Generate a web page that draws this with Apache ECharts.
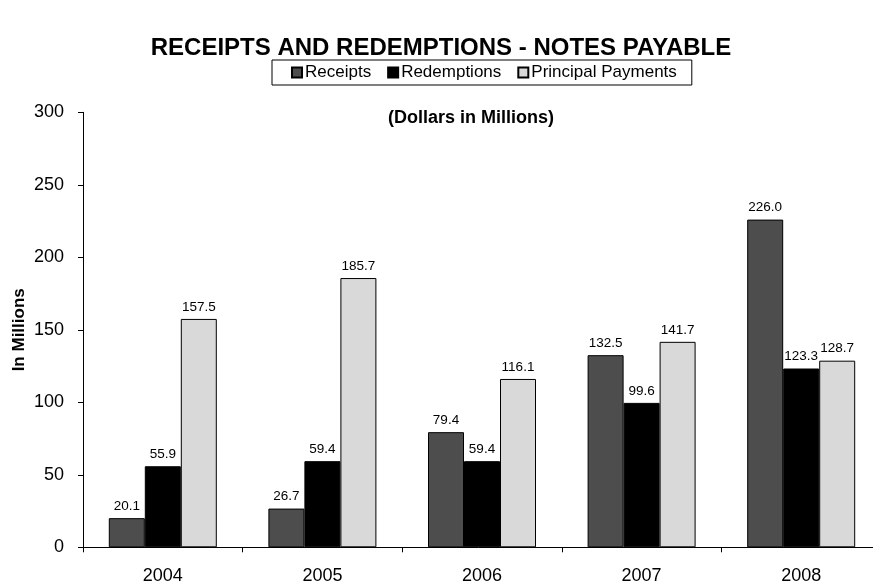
<!DOCTYPE html>
<html>
<head>
<meta charset="utf-8">
<script src="https://cdn.jsdelivr.net/npm/echarts@6/dist/echarts.min.js"></script>
<style>html,body{margin:0;padding:0;background:#fff}#c{width:873px;height:587px}</style>
</head>
<body>
<div id="c"></div>
<script>
var categories = ['2004', '2005', '2006', '2007', '2008'];
var receipts = [20.1, 26.7, 79.4, 132.5, 226.0];
var redemptions = [55.9, 59.4, 59.4, 99.6, 123.3];
var principal = [157.5, 185.7, 116.1, 141.7, 128.7];
var seriesNames = ['Receipts', 'Redemptions', 'Principal Payments'];
var yTicks = {min: 0, max: 300, interval: 50};

var FONT = '"Liberation Sans", Arial, sans-serif';
var chart = echarts.init(document.getElementById('c'));
function mk(name, data, color) {
  return {
    name: name, type: 'bar', data: data, barWidth: 36, barGap: '0%',
    itemStyle: {color: color, borderColor: '#000', borderWidth: 1},
    label: {show: true, position: 'top', distance: 5, color: '#000', fontSize: 13.5, fontFamily: FONT,
      formatter: function (p) { return p.value.toFixed(1); }}
  };
}
chart.setOption({
  animation: false,
  backgroundColor: '#fff',
  title: [
    {text: 'RECEIPTS AND REDEMPTIONS - NOTES PAYABLE', left: 436, top: 31, textAlign: 'center',
     textStyle: {fontSize: 24, fontWeight: 'bold', color: '#000', fontFamily: FONT}},
    {text: '(Dollars in Millions)', left: 466, top: 104, textAlign: 'center',
     textStyle: {fontSize: 18, fontWeight: 'bold', color: '#000', fontFamily: FONT}}
  ],
  legend: {
    data: seriesNames, left: 272, top: 60, itemWidth: 10, itemHeight: 10, itemGap: 16,
    borderColor: '#000', borderWidth: 1, padding: [4, 15, 4, 19],
    textStyle: {fontSize: 17, color: '#000', fontFamily: FONT, padding: [0, 0, 0, -2]},
    icon: 'rect'
  },
  grid: {left: 83, top: 112.3, width: 798, height: 435, containLabel: false, outerBoundsMode: 'none'},
  xAxis: {
    type: 'category', data: categories,
    axisLine: {lineStyle: {color: '#000', width: 1}},
    axisTick: {show: true, length: 5, lineStyle: {color: '#000'}},
    axisLabel: {fontSize: 18, color: '#000', fontFamily: FONT, margin: 20}
  },
  yAxis: {
    type: 'value', min: yTicks.min, max: yTicks.max, interval: yTicks.interval,
    name: 'In Millions', nameLocation: 'middle', nameGap: 55, nameRotate: 90, nameMoveOverlap: false,
    nameTextStyle: {fontSize: 17, fontWeight: 'bold', color: '#000', fontFamily: FONT},
    axisLine: {show: true, lineStyle: {color: '#000', width: 1}},
    axisTick: {show: true, length: 5, lineStyle: {color: '#000'}},
    splitLine: {show: false},
    axisLabel: {fontSize: 18, color: '#000', fontFamily: FONT, margin: 19}
  },
  series: [
    mk(seriesNames[0], receipts, '#4d4d4d'),
    mk(seriesNames[1], redemptions, '#000000'),
    mk(seriesNames[2], principal, '#d9d9d9')
  ]
});
</script>
</body>
</html>
